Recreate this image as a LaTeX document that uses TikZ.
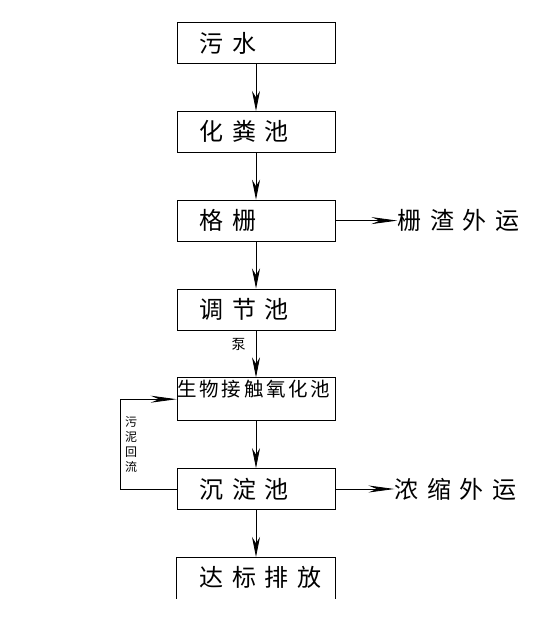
\documentclass[tikz,border=0pt]{standalone}
\usepackage{fontspec}
\usetikzlibrary{arrows.meta,positioning}
\newfontfamily\cjk[LetterSpace=36]{Noto Sans CJK SC}
\newfontfamily\cjkmid[LetterSpace=14]{Noto Sans CJK SC}
\newfontfamily\cjksmall{Noto Sans CJK SC}
\hfuzz=200pt
\hbadness=10000

\tikzset{
  stagebox/.style={draw, line width=0.8pt, minimum width=158pt, minimum height=41pt,
    text width=113pt, inner xsep=22.5pt, inner ysep=0pt, align=left,
    font=\cjk\fontsize{24}{26}\selectfont},
  flow/.style={-{Stealth[length=20pt,width=8pt]}, line width=0.8pt},
  sideflow/.style={-{Stealth[length=26pt,width=7pt]}, line width=0.8pt},
  outlabel/.style={inner sep=0pt, anchor=west, font=\cjk\fontsize{24}{26}\selectfont},
  smalllabel/.style={inner sep=0pt, align=center, font=\cjksmall\fontsize{12}{15}\selectfont}
}

\begin{document}
\begin{tikzpicture}[x=1pt, y=1pt, node distance=47pt]
  \useasboundingbox (0,0) rectangle (550,-628);

  \node[stagebox] (sewage) at (256,-43) {污水};
  \node[stagebox, below=of sewage] (septic) {化粪池};
  \node[stagebox, below=of septic] (grille) {格栅};
  \node[stagebox, below=of grille] (balance) {调节池};
  \node[stagebox, below=of balance, minimum height=43pt, text width=157pt, inner xsep=0pt,
        text height=16pt, text depth=22pt, inner ysep=2.5pt,
        font=\cjkmid\fontsize{19.5}{22}\selectfont] (bio) {生物接触氧化池};
  \node[stagebox, below=of bio] (settle) {沉淀池};
  \node[stagebox, draw=none, below=of settle] (discharge) {达标排放};
  \draw[line width=0.8pt] (discharge.south west) -- (discharge.north west)
    -- (discharge.north east) -- (discharge.south east);

  % side outputs
  \node[outlabel, right=62pt of grille.east] (residue) {栅渣外运};
  \node[outlabel, right=59pt of settle.east] (sludge) {浓缩外运};

  % main line
  \draw[flow] (sewage) -- (septic);
  \draw[flow] (septic) -- (grille);
  \draw[flow] (grille) -- (balance);
  \draw[flow] (balance) -- node[pos=0.3, left=10pt, inner sep=0pt,
    font=\cjksmall\fontsize{14}{16}\selectfont] (pump) {泵} (bio);
  \draw[flow] (bio) -- (settle);
  \draw[flow] (settle) -- (discharge);

  \draw[sideflow] (grille.east) -- (residue.west);
  \draw[sideflow] (settle.east) -- (sludge.west);

  % sludge return
  \draw[sideflow] (settle.west) -| node[pos=0.75, right=4pt, smalllabel] (return) {污\\泥\\回\\流}
    ([xshift=-56pt]bio.west) -- (bio.west);
\end{tikzpicture}
\end{document}
